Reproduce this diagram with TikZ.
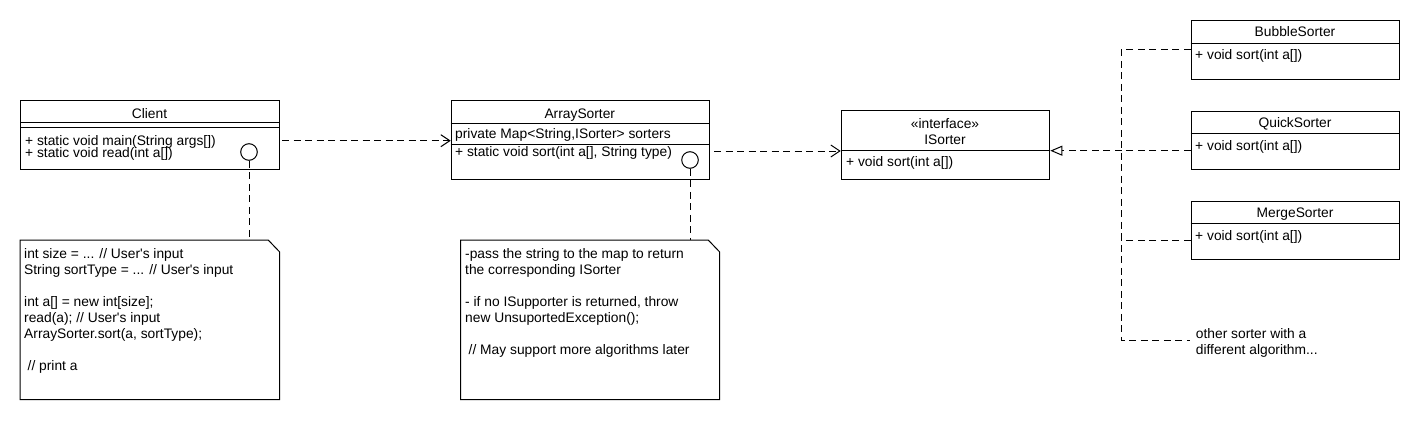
\documentclass[tikz,border=0pt]{standalone}
\usepackage{fontspec}
\newfontfamily\uml{Liberation Sans}
\usetikzlibrary{arrows.meta}
\begin{document}
\begin{tikzpicture}[x=1pt,y=-1pt,
 every node/.style={font=\uml\fontsize{13.8}{16}\selectfont, inner sep=0pt, text=black},
 boxnode/.style={draw, line width=1pt, anchor=north west, rectangle},
 blank/.style={anchor=north west, rectangle},
 txt/.style={anchor=base west},
 ttl/.style={anchor=base},
 ln/.style={line width=1pt},
 pin/.style={draw, circle, minimum size=16.6pt, line width=1pt, fill=white},
 dsh/.style={line width=1pt, dash pattern=on 7pt off 4.5pt},
 dep/.style={dsh, -{Straight Barb[length=9pt,width=12pt]}},
 realz/.style={dsh, -{Triangle[open,length=12pt,width=10pt,fill=white]}}
]
\useasboundingbox (0,0) rectangle (1420,420);

% ---------- Client ----------
\node[boxnode, minimum width=259pt, minimum height=69pt] (client) at (20,100) {};
\node[ttl] (clientT) at (149.5,118.1) {Client};
\draw[ln] (client.west |- 0,122.7) -- (client.east |- 0,122.7);
\draw[ln] (client.west |- 0,127.7) -- (client.east |- 0,127.7);
\node[txt] (clientM1) at (25,145.5) {+ static void main(String args[])};
\node[txt] (clientM2) at (25,157.5) {+ static void read(int a[])};
\node[pin] (pin1) at (249,152) {};

% ---------- ArraySorter ----------
\node[boxnode, minimum width=258.3pt, minimum height=79pt] (asorter) at (450.7,100) {};
\node[ttl] (asorterT) at (579.8,118) {ArraySorter};
\draw[ln] (asorter.west |- 0,123.3) -- (asorter.east |- 0,123.3);
\node[txt] (asorterA) at (455,138.8) {private Map<String,ISorter> sorters};
\draw[ln] (asorter.west |- 0,144.3) -- (asorter.east |- 0,144.3);
\node[txt] (asorterM) at (455,156.5) {+ static void sort(int a[], String type)};
\node[pin] (pin2) at (690,160) {};

% ---------- ISorter ----------
\node[boxnode, minimum width=208.6pt, minimum height=69pt] (isorter) at (840.7,110) {};
\node[ttl] (isorterS) at (945,128.1) {«interface»};
\node[ttl] (isorterT) at (945,144.1) {ISorter};
\draw[ln] (isorter.west |- 0,150.7) -- (isorter.east |- 0,150.7);
\node[txt] (isorterM) at (846,166.5) {+ void sort(int a[])};

% ---------- Sorters ----------
\node[boxnode, minimum width=208.6pt, minimum height=59pt] (bubble) at (1190.7,20) {};
\node[ttl] (bubbleT) at (1295,36.5) {BubbleSorter};
\draw[ln] (bubble.west |- 0,43.3) -- (bubble.east |- 0,43.3);
\node[txt] (bubbleM) at (1195,59.8) {+ void sort(int a[])};

\node[boxnode, minimum width=208.6pt, minimum height=58.3pt] (quick) at (1190.7,110.7) {};
\node[ttl] (quickT) at (1295,127.1) {QuickSorter};
\draw[ln] (quick.west |- 0,133.3) -- (quick.east |- 0,133.3);
\node[txt] (quickM) at (1195,150.5) {+ void sort(int a[])};

\node[boxnode, minimum width=208.6pt, minimum height=58pt] (merge) at (1190.7,201) {};
\node[ttl] (mergeT) at (1295,217.1) {MergeSorter};
\draw[ln] (merge.west |- 0,223.3) -- (merge.east |- 0,223.3);
\node[txt] (mergeM) at (1195,240.8) {+ void sort(int a[])};

\node[txt] (other1) at (1195.7,338.1) {other sorter with a};
\node[txt] (other2) at (1195.7,354.8) {different algorithm...};

% ---------- Notes ----------
\node[blank, minimum width=259.3pt, minimum height=159.3pt] (note1) at (20,240) {};
\draw[ln, fill=white] (note1.north west) -- ([xshift=-11.5pt]note1.north east) -- ([yshift=-12pt]note1.north east) -- (note1.south east) -- (note1.south west) -- cycle;
\node[txt] (n1l1) at (24,258.3) {int size = ... // User's input};
\node[txt] (n1l2) at (24,274.3) {String sortType = ... // User's input};
\node[txt] (n1l3) at (24,306.3) {int a[] = new int[size];};
\node[txt] (n1l4) at (24,322.3) {read(a); // User's input};
\node[txt] (n1l5) at (24,338.3) {ArraySorter.sort(a, sortType);};
\node[txt] (n1l6) at (27.5,370.3) {// print a};

\node[blank, minimum width=258.6pt, minimum height=159.3pt] (note2) at (460.7,240) {};
\draw[ln, fill=white] (note2.north west) -- ([xshift=-11.5pt]note2.north east) -- ([yshift=-12pt]note2.north east) -- (note2.south east) -- (note2.south west) -- cycle;
\node[txt] (n2l1) at (465,258.3) {-pass the string to the map to return};
\node[txt] (n2l2) at (465,274.3) {the corresponding ISorter};
\node[txt] (n2l3) at (465,306.3) {- if no ISupporter is returned, throw};
\node[txt] (n2l4) at (465,322.3) {new UnsuportedException();};
\node[txt] (n2l5) at (468.5,354.3) {// May support more algorithms later};

% ---------- Connectors ----------
\coordinate (c1s) at (282,140.7);
\draw[dep] (c1s) -- (asorter.west |- c1s);
\coordinate (c2s) at (714,151);
\draw[dep] (c2s) -- (isorter.west |- c2s);
\draw[realz] (quick.west |- 0,150.7) -- (isorter.east |- 0,150.7);

\draw[dsh] (pin1.south) -- (pin1.south |- note1.north);
\draw[dsh] (pin2.south) -- (pin2.south |- note2.north);

\coordinate (trTop) at (1121,50);
\coordinate (trMid) at (1121,240);
\coordinate (trBot) at (1121,340);
\coordinate (otherEnd) at (1190,340);
\draw[dsh] (bubble.west |- trTop) -- (trTop) -- (trBot) -- (otherEnd);
\draw[dsh] (merge.west |- trMid) -- (trMid);
\end{tikzpicture}
\end{document}
